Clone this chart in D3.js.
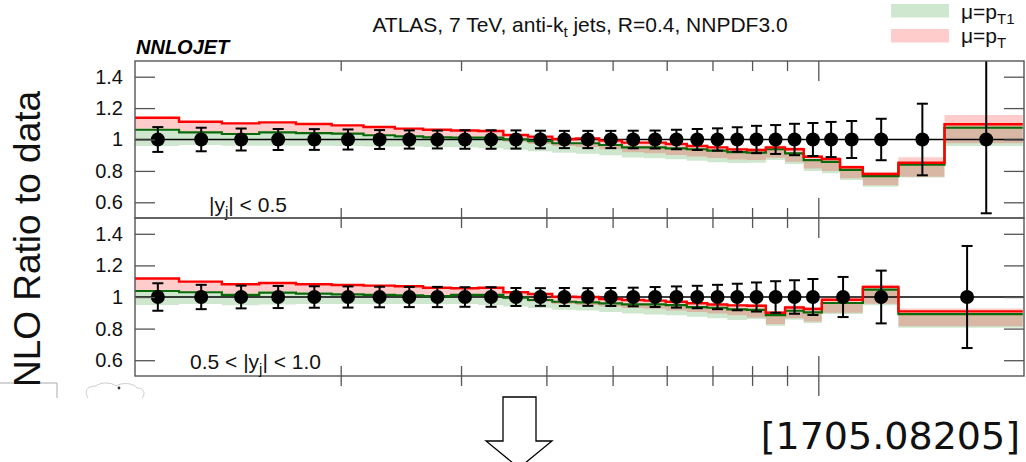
<!DOCTYPE html>
<html>
<head>
<meta charset="utf-8">
<script src="https://cdn.jsdelivr.net/npm/d3@7"></script>
<style>
  html, body { margin: 0; padding: 0; background: #fff; }
  svg { display: block; font-family: "Liberation Sans", Arial, sans-serif; }
</style>
</head>
<body>
<svg id="chart" width="1026" height="462"></svg>
<script>
// ---- pT bin edges (GeV) ----
const edgesY0 = [100,116,134,152,172,194,216,240,264,290,318,346,376,408,442,478,516,556,598,642,688,736,786,838,894,952,1012,1076,1162,1310,1530,1992];
const edgesY1 = [100,116,134,152,172,194,216,240,264,290,318,346,376,408,442,478,516,556,598,642,688,736,786,838,894,952,1012,1162,1310,1992];

// ---- |y| < 0.5 ----
const dataRatioY0 = [1,1,1,1,1,1,1,1,1,1,1,1,1,1,1,1,1,1,1,1,1,1,1,1,1,1,1,1,1,1,1];
const dataErrUpY0 = [0.079,0.075,0.070,0.067,0.066,0.064,0.060,0.058,0.057,0.059,0.059,0.058,0.056,0.055,0.055,0.055,0.056,0.057,0.062,0.067,0.071,0.078,0.087,0.092,0.100,0.105,0.112,0.118,0.132,0.228,0.600];
const dataErrDnY0 = [0.079,0.075,0.070,0.067,0.066,0.064,0.060,0.058,0.057,0.059,0.059,0.058,0.056,0.055,0.055,0.055,0.056,0.057,0.062,0.067,0.071,0.078,0.087,0.092,0.100,0.105,0.112,0.118,0.132,0.228,0.470];
const ptCentralY0  = [1.139,1.113,1.103,1.109,1.099,1.090,1.080,1.069,1.062,1.057,1.054,1.029,1.018,1.003,1.007,0.993,0.980,0.980,0.971,0.959,0.950,0.937,0.933,0.950,0.938,0.890,0.876,0.823,0.780,0.852,1.097];
const ptHighY0     = [1.142,1.116,1.106,1.112,1.102,1.093,1.083,1.072,1.065,1.060,1.057,1.032,1.021,1.006,1.010,0.997,0.985,0.985,0.977,0.966,0.958,0.948,0.945,0.962,0.950,0.902,0.889,0.836,0.793,0.887,1.156];
const ptLowY0      = [1.068,1.050,1.040,1.050,1.045,1.040,1.030,1.022,1.016,1.005,0.998,0.985,0.972,0.958,0.952,0.938,0.918,0.912,0.902,0.892,0.882,0.872,0.870,0.884,0.859,0.816,0.800,0.753,0.708,0.763,0.976];
const pt1CentralY0 = [1.062,1.046,1.035,1.046,1.041,1.037,1.027,1.020,1.014,1.012,1.012,1.001,0.990,0.976,0.976,0.965,0.950,0.950,0.944,0.938,0.929,0.920,0.916,0.938,0.912,0.869,0.857,0.806,0.767,0.840,1.075];
const pt1HighY0    = [1.065,1.049,1.038,1.049,1.044,1.040,1.030,1.023,1.017,1.015,1.015,1.004,0.993,0.979,0.979,0.968,0.953,0.953,0.947,0.941,0.933,0.925,0.922,0.944,0.918,0.875,0.863,0.812,0.773,0.850,1.090];
const pt1LowY0     = [0.959,0.965,0.960,0.960,0.960,0.958,0.955,0.955,0.952,0.950,0.945,0.935,0.925,0.915,0.910,0.900,0.885,0.880,0.875,0.865,0.855,0.850,0.852,0.869,0.844,0.800,0.785,0.742,0.699,0.758,0.959];

// ---- 0.5 < |y| < 1.0 ----
const dataRatioY1 = [1,1,1,1,1,1,1,1,1,1,1,1,1,1,1,1,1,1,1,1,1,1,1,1,1,1,1,1,1];
const dataErrUpY1 = [0.087,0.077,0.072,0.070,0.068,0.067,0.065,0.064,0.064,0.062,0.062,0.057,0.056,0.057,0.056,0.057,0.059,0.063,0.067,0.071,0.077,0.084,0.092,0.100,0.106,0.114,0.127,0.167,0.323];
const dataErrDnY1 = [0.087,0.077,0.072,0.070,0.068,0.067,0.065,0.064,0.064,0.062,0.062,0.057,0.056,0.057,0.056,0.057,0.059,0.063,0.067,0.071,0.077,0.084,0.092,0.100,0.106,0.114,0.127,0.167,0.323];
const ptCentralY1  = [1.117,1.097,1.081,1.089,1.081,1.076,1.072,1.068,1.059,1.055,1.059,1.030,1.019,1.002,1.000,0.987,0.981,0.977,0.970,0.960,0.953,0.947,0.945,0.900,0.934,0.924,0.983,1.064,0.909];
const ptHighY1     = [1.120,1.100,1.084,1.092,1.084,1.079,1.075,1.071,1.062,1.058,1.062,1.033,1.022,1.005,1.003,0.990,0.985,0.981,0.975,0.966,0.960,0.955,0.956,0.912,0.946,0.936,0.996,1.078,0.928];
const ptLowY1      = [1.045,1.035,1.020,1.035,1.028,1.022,1.018,1.015,1.010,1.005,1.000,0.985,0.970,0.955,0.950,0.940,0.930,0.925,0.915,0.905,0.895,0.885,0.870,0.828,0.865,0.845,0.900,0.958,0.815];
const pt1CentralY1 = [1.038,1.030,1.013,1.028,1.021,1.017,1.013,1.011,1.006,1.013,1.013,0.996,0.981,0.970,0.966,0.960,0.953,0.953,0.949,0.936,0.932,0.922,0.919,0.885,0.913,0.903,0.962,1.047,0.892];
const pt1HighY1    = [1.041,1.033,1.016,1.031,1.024,1.020,1.016,1.014,1.009,1.016,1.016,0.999,0.984,0.973,0.969,0.963,0.956,0.956,0.952,0.940,0.936,0.927,0.925,0.891,0.919,0.909,0.968,1.053,0.899];
const pt1LowY1     = [0.949,0.955,0.947,0.952,0.955,0.955,0.955,0.955,0.955,0.955,0.950,0.940,0.930,0.920,0.915,0.905,0.895,0.890,0.885,0.875,0.865,0.855,0.860,0.818,0.856,0.835,0.892,0.948,0.806];

// ---- axis ticks and labels ----
const yTickValues = [0.6, 0.8, 1.0, 1.2, 1.4];
const xMinorTicks = [200, 300, 400, 500, 600, 700, 800, 900];
const xMajorTicks = [1000];
const panelLabels = ["|y_j| < 0.5", "0.5 < |y_j| < 1.0"];

const svg = d3.select("#chart");
const left = 135, right = 1024;
const x = d3.scaleLog().domain([100, 2000]).range([left, right]);

const panels = [
  { top: 61, bottom: 218, edges: edgesY0, ratio: dataRatioY0, up: dataErrUpY0, dn: dataErrDnY0,
    rC: ptCentralY0, rH: ptHighY0, rL: ptLowY0, gC: pt1CentralY0, gH: pt1HighY0, gL: pt1LowY0,
    label: ["|y", "j", "| < 0.5"], labelX: 209, labelY: 212 },
  { top: 218, bottom: 376, edges: edgesY1, ratio: dataRatioY1, up: dataErrUpY1, dn: dataErrDnY1,
    rC: ptCentralY1, rH: ptHighY1, rL: ptLowY1, gC: pt1CentralY1, gH: pt1HighY1, gL: pt1LowY1,
    label: ["0.5 < |y", "j", "| < 1.0"], labelX: 190, labelY: 369 }
];

const frameColor = "#555";

panels.forEach((p, pi) => {
  const y = d3.scaleLinear().domain([0.5, 1.5]).range([p.bottom, p.top]);
  const g = svg.append("g");
  const clipId = "clip" + pi;
  svg.append("clipPath").attr("id", clipId)
    .append("rect").attr("x", left).attr("y", p.top).attr("width", right - left).attr("height", p.bottom - p.top);
  const plot = g.append("g").attr("clip-path", `url(#${clipId})`);

  // step series: one point per bin low edge plus closing edge
  const steps = (lo, hi) => {
    const n = p.edges.length - 1;
    const pts = d3.range(n).map(i => ({ x: p.edges[i], lo: lo[i], hi: hi[i] }));
    pts.push({ x: p.edges[n], lo: lo[n - 1], hi: hi[n - 1] });
    return pts;
  };
  const area = d3.area().curve(d3.curveStepAfter)
    .x(d => x(d.x)).y0(d => y(d.lo)).y1(d => y(d.hi));
  const line = d3.line().curve(d3.curveStepAfter)
    .x(d => x(d.x)).y(d => y(d.hi));

  plot.append("path").attr("d", area(steps(p.gL, p.gH))).attr("fill", "rgba(0,128,0,0.19)");
  plot.append("path").attr("d", area(steps(p.rL, p.rH))).attr("fill", "rgba(255,0,0,0.2)");

  plot.append("line").attr("x1", left).attr("x2", right).attr("y1", y(1)).attr("y2", y(1))
    .attr("stroke", "#000").attr("stroke-width", 1.6);

  plot.append("path").attr("d", line(steps(p.gC, p.gC))).attr("fill", "none")
    .attr("stroke", "#0a6a0a").attr("stroke-width", 2.2);
  plot.append("path").attr("d", line(steps(p.rC, p.rC))).attr("fill", "none")
    .attr("stroke", "#ff0000").attr("stroke-width", 2.4);

  // data points with error bars
  const centers = d3.range(p.edges.length - 1).map(i => (p.edges[i] + p.edges[i + 1]) / 2);
  const pts = centers.map((c, i) => ({ c, v: p.ratio[i], up: p.up[i], dn: p.dn[i] }));
  const eb = plot.append("g").attr("stroke", "#000").attr("stroke-width", 2);
  pts.forEach(d => {
    const cx = x(d.c);
    const yt = y(d.v + d.up), yb = y(d.v - d.dn);
    eb.append("line").attr("x1", cx).attr("x2", cx).attr("y1", yt).attr("y2", yb);
    eb.append("line").attr("x1", cx - 5.5).attr("x2", cx + 5.5).attr("y1", yt).attr("y2", yt);
    eb.append("line").attr("x1", cx - 5.5).attr("x2", cx + 5.5).attr("y1", yb).attr("y2", yb);
  });
  plot.append("g").selectAll("circle").data(pts).join("circle")
    .attr("cx", d => x(d.c)).attr("cy", d => y(d.v)).attr("r", 7).attr("fill", "#000");

  // axes
  const styleAxis = sel => {
    sel.select(".domain").remove();
    sel.selectAll(".tick line").attr("stroke", frameColor).attr("stroke-width", 1.3);
  };
  g.append("g").attr("transform", `translate(${left},0)`)
    .call(d3.axisLeft(y).tickValues(yTickValues).tickSize(-20).tickPadding(12)
      .tickFormat(d => d === 1 ? "1" : d3.format(".1f")(d)))
    .call(styleAxis)
    .call(s => s.selectAll("text").attr("font-size", 20).attr("fill", "#111")
      .attr("font-family", '"Liberation Sans", Arial, sans-serif'));
  g.append("g").attr("transform", `translate(${right},0)`)
    .call(d3.axisRight(y).tickValues(yTickValues).tickSize(-20).tickFormat(""))
    .call(styleAxis);
  g.append("g").attr("transform", `translate(0,${p.top})`)
    .call(d3.axisTop(x).tickValues(xMinorTicks).tickSize(-10).tickFormat("")).call(styleAxis);
  g.append("g").attr("transform", `translate(0,${p.top})`)
    .call(d3.axisTop(x).tickValues(xMajorTicks).tickSize(-20).tickFormat("")).call(styleAxis);
  g.append("g").attr("transform", `translate(0,${p.bottom})`)
    .call(d3.axisBottom(x).tickValues(xMinorTicks).tickSize(-10).tickFormat("")).call(styleAxis);
  g.append("g").attr("transform", `translate(0,${p.bottom})`)
    .call(d3.axisBottom(x).tickValues(xMajorTicks).tickSize(-20).tickFormat("")).call(styleAxis);

  g.append("rect").attr("x", left).attr("y", p.top).attr("width", right - left).attr("height", p.bottom - p.top)
    .attr("fill", "none").attr("stroke", frameColor).attr("stroke-width", 1.4);

  const t = g.append("text").attr("x", p.labelX).attr("y", p.labelY).attr("font-size", 21).attr("fill", "#111");
  t.append("tspan").text(p.label[0]);
  t.append("tspan").attr("font-size", 15).attr("dy", 5).text(p.label[1]);
  t.append("tspan").attr("dy", -5).text(p.label[2]);
});

// top ticks of the following panel, peeking below the lower frame
const below = svg.append("g");
below.append("g").attr("transform", "translate(0,376)")
  .call(d3.axisBottom(x).tickValues(xMinorTicks).tickSize(10).tickFormat(""))
  .call(s => { s.select(".domain").remove(); s.selectAll(".tick line").attr("stroke", frameColor).attr("stroke-width", 1.3); });
below.append("g").attr("transform", "translate(0,376)")
  .call(d3.axisBottom(x).tickValues(xMajorTicks).tickSize(20).tickFormat(""))
  .call(s => { s.select(".domain").remove(); s.selectAll(".tick line").attr("stroke", frameColor).attr("stroke-width", 1.3); });

// small callout outlines at the lower left
svg.append("path").attr("d", "M0,383 H57 V398").attr("fill", "none").attr("stroke", "#aaa").attr("stroke-width", 1);
svg.append("path")
  .attr("d", "M88,398 C84,392 86,386 96,386 C100,382 112,382 116,386 C122,382 134,383 137,388 C144,388 146,394 142,398")
  .attr("fill", "#fff").attr("stroke", "#ccc").attr("stroke-width", 1);
svg.append("circle").attr("cx", 119).attr("cy", 388).attr("r", 1.4).attr("fill", "#333");

// header texts
const title = svg.append("text").attr("x", 580).attr("y", 32).attr("text-anchor", "middle")
  .attr("font-size", 21).attr("fill", "#111");
title.append("tspan").text("ATLAS, 7 TeV, anti-k");
title.append("tspan").attr("font-size", 15).attr("dy", 5).text("t");
title.append("tspan").attr("dy", -5).text(" jets, R=0.4, NNPDF3.0");

svg.append("text").attr("x", 136).attr("y", 54).attr("font-size", 20)
  .attr("font-weight", "bold").attr("font-style", "italic").attr("fill", "#000").text("NNLOJET");

// legend
const legendItems = [
  { fill: "rgba(0,128,0,0.19)", main: "μ=p", sub: "T1" },
  { fill: "rgba(255,0,0,0.2)", main: "μ=p", sub: "T" }
];
legendItems.forEach((d, i) => {
  svg.append("rect").attr("x", 891).attr("y", 4 + i * 25).attr("width", 58).attr("height", 13.5).attr("fill", d.fill);
  const lt = svg.append("text").attr("x", 961).attr("y", 19 + i * 24).attr("font-size", 21).attr("fill", "#111");
  lt.append("tspan").text(d.main);
  lt.append("tspan").attr("font-size", 15).attr("dy", 5).text(d.sub);
});

// y-axis title
svg.append("text").attr("transform", "translate(40,239) rotate(-90)").attr("text-anchor", "middle")
  .attr("font-size", 37).attr("fill", "#111").text("NLO Ratio to data");

// downward outline arrow
svg.append("path").attr("d", "M503,397 V441 H486 L519,468 L552,441 H536 V397 Z")
  .attr("fill", "#fff").attr("stroke", "#000").attr("stroke-width", 1.3);

// reference tag
svg.append("text").attr("x", 1020).attr("y", 449).attr("text-anchor", "end")
  .attr("font-family", '"DejaVu Sans", sans-serif').attr("font-size", 38).attr("fill", "#111")
  .text("[1705.08205]");
</script>
</body>
</html>
